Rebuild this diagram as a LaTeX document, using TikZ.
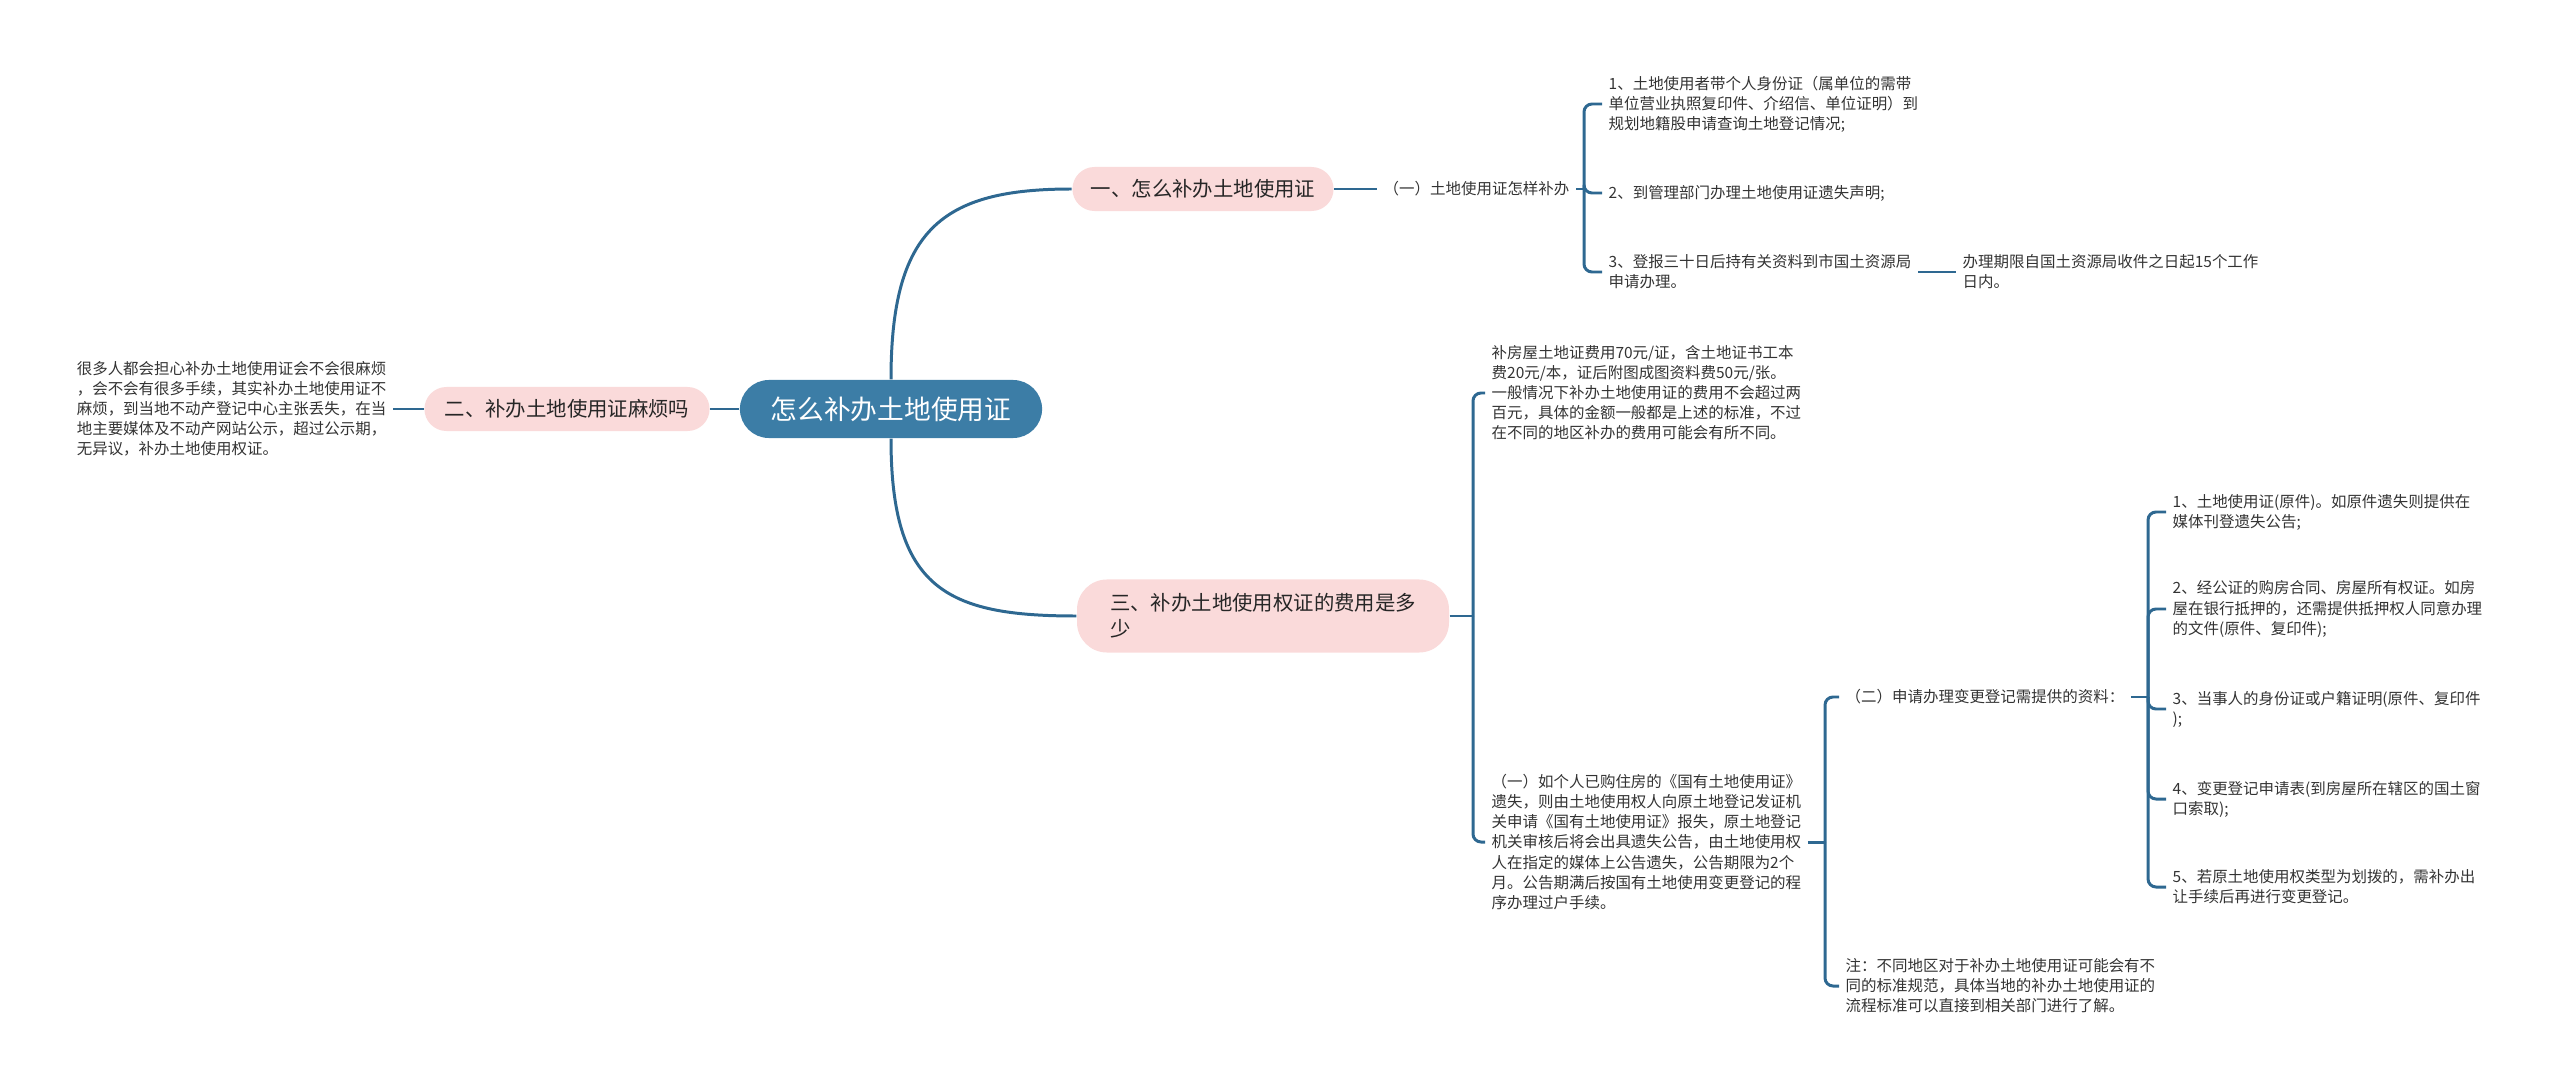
\documentclass[tikz,border=0pt]{standalone}
\usepackage{fontspec}
\setmainfont{Noto Sans CJK SC}
\definecolor{linkblue}{HTML}{2E6891}
\definecolor{rootblue}{HTML}{3C7DA6}
\definecolor{topicpink}{HTML}{FADADA}
\definecolor{topictext}{HTML}{262626}
\definecolor{leaftext}{HTML}{333333}
\begin{document}
\begin{tikzpicture}[x=0.01cm,y=-0.01cm]
\tikzstyle{link}=[draw=linkblue, line width=0.85pt]
\tikzstyle{fork}=[link, rounded corners=0.08cm]
\tikzstyle{rootbox}=[rounded corners=0.29cm, fill=rootblue, text=white, font=\fontsize{7.6pt}{9pt}\selectfont, minimum width=3.02cm, minimum height=0.58cm, inner sep=0pt]
\tikzstyle{topic}=[rounded corners=0.22cm, fill=topicpink, text=topictext, font=\fontsize{5.8pt}{7.4pt}\selectfont, minimum height=0.44cm, inner sep=0pt]
\tikzstyle{leaf}=[anchor=west, align=left, text=leaftext, font=\fontsize{4.4pt}{5.7pt}\selectfont, inner xsep=0.06cm, inner ysep=0pt]
\useasboundingbox (0,0) rectangle (2560,1091);

% root and main topics
\node[rootbox] (root) at (891,409) {怎么补办土地使用证};
\node[topic, minimum width=2.61cm] (b1) at (1203,189) {一、怎么补办土地使用证};
\node[topic, minimum width=2.85cm] (b2) at (567,409) {二、补办土地使用证麻烦吗};
\node[topic, align=left, inner xsep=0.33cm, minimum height=0.73cm, rounded corners=0.3cm] (b3) at (1263,616) {三、补办土地使用权证的费用是多\\少};

\draw[link] (root.north) .. controls +(0,-150) and +(-130,0) .. (b1.west);
\draw[link] (root.south) .. controls +(0,150) and +(-130,0) .. (b3.west);
\draw[link] (root.west) -- (b2.east);

% branch 2
\node[leaf, anchor=east] (t2) at (393,409) {很多人都会担心补办土地使用证会不会很麻烦\\，会不会有很多手续，其实补办土地使用证不\\麻烦，到当地不动产登记中心主张丢失，在当\\地主要媒体及不动产网站公示，超过公示期，\\无异议，补办土地使用权证。};
\draw[link] (b2.west) -- (t2.east);

% branch 1
\node[leaf] (s1) at (1377,189) {（一）土地使用证怎样补办};
\node[leaf] (i1) at (1602,104) {1、土地使用者带个人身份证（属单位的需带\\单位营业执照复印件、介绍信、单位证明）到\\规划地籍股申请查询土地登记情况;};
\node[leaf] (i2) at (1602,193) {2、到管理部门办理土地使用证遗失声明;};
\node[leaf] (i3) at (1602,272) {3、登报三十日后持有关资料到市国土资源局\\申请办理。};
\node[leaf] (i3n) at (1956,272) {办理期限自国土资源局收件之日起15个工作\\日内。};
\coordinate (j1) at (1584,189);
\draw[link] (b1.east) -- (s1.west);
\draw[link] (s1.east) -- (j1);
\foreach \n in {1,2,3}
  \draw[fork] (j1) |- (i\n.west);
\draw[link] (i3.east) -- (i3n.west);

% branch 3
\node[leaf] (c1) at (1485,393) {补房屋土地证费用70元/证，含土地证书工本\\费20元/本，证后附图成图资料费50元/张。\\一般情况下补办土地使用证的费用不会超过两\\百元，具体的金额一般都是上述的标准，不过\\在不同的地区补办的费用可能会有所不同。};
\node[leaf] (c2) at (1485,842) {（一）如个人已购住房的《国有土地使用证》\\遗失，则由土地使用权人向原土地登记发证机\\关申请《国有土地使用证》报失，原土地登记\\机关审核后将会出具遗失公告，由土地使用权\\人在指定的媒体上公告遗失，公告期限为2个\\月。公告期满后按国有土地使用变更登记的程\\序办理过户手续。};
\coordinate (j2) at (1473,616);
\draw[link] (b3.east) -- (j2);
\foreach \n in {1,2}
  \draw[fork] (j2) |- (c\n.west);

\node[leaf] (d1) at (1839,697) {（二）申请办理变更登记需提供的资料：};
\node[leaf] (d2) at (1839,986) {注：不同地区对于补办土地使用证可能会有不\\同的标准规范，具体当地的补办土地使用证的\\流程标准可以直接到相关部门进行了解。};
\coordinate (j3) at (1825,842);
\draw[link] (c2.east) -- (j3);
\foreach \n in {1,2}
  \draw[fork] (j3) |- (d\n.west);

\node[leaf] (e1) at (2166,512) {1、土地使用证(原件)。如原件遗失则提供在\\媒体刊登遗失公告;};
\node[leaf] (e2) at (2166,609) {2、经公证的购房合同、房屋所有权证。如房\\屋在银行抵押的，还需提供抵押权人同意办理\\的文件(原件、复印件);};
\node[leaf] (e3) at (2166,709) {3、当事人的身份证或户籍证明(原件、复印件\\);};
\node[leaf] (e4) at (2166,799) {4、变更登记申请表(到房屋所在辖区的国土窗\\口索取);};
\node[leaf] (e5) at (2166,887) {5、若原土地使用权类型为划拨的，需补办出\\让手续后再进行变更登记。};
\coordinate (j4) at (2148,697);
\draw[link] (d1.east) -- (j4);
\foreach \n in {1,...,5}
  \draw[fork] (j4) |- (e\n.west);
\end{tikzpicture}
\end{document}
